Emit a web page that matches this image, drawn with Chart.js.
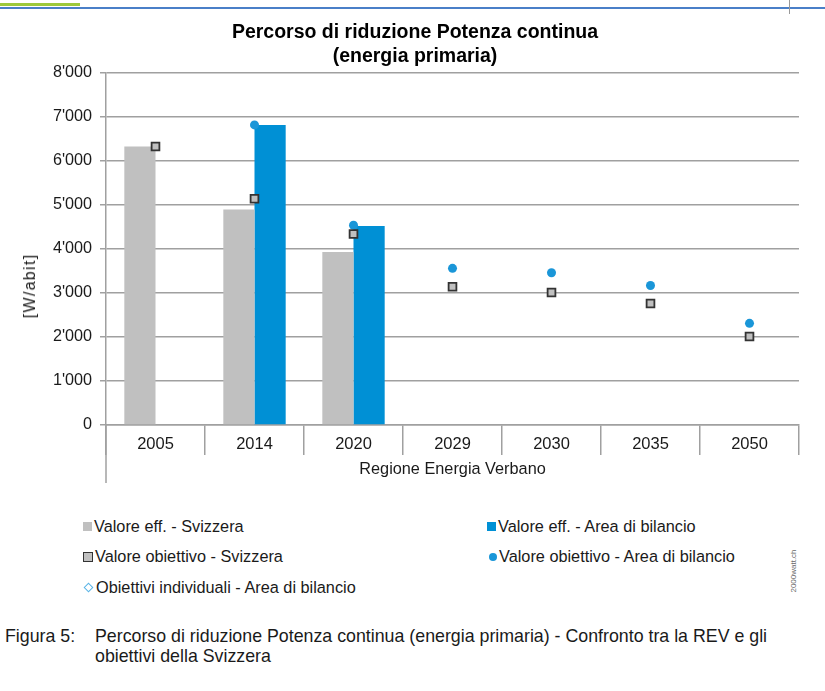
<!DOCTYPE html>
<html>
<head>
<meta charset="utf-8">
<script src="https://cdn.jsdelivr.net/npm/chart.js@4"></script>
<style>
  body { margin: 0; background: #fff; font-family: "Liberation Sans", Arial, sans-serif; color: #1a1a1a; }
  #wrap { position: relative; width: 825px; height: 691px; overflow: hidden; }
  #chartBox { position: absolute; left: 0; top: 0; width: 825px; height: 490px; }
  .legend { position: absolute; font-size: 16.3px; white-space: nowrap; }
  .sw { display: inline-block; vertical-align: middle; margin-right: 2px; box-sizing: border-box; position: relative; top: -1px; }
  .caption { position: absolute; font-size: 17.8px; line-height: 20px; }
  #yTitle { position: absolute; left: 30px; top: 286px; font-size: 16px; letter-spacing: 1.3px; white-space: nowrap;
            transform: translate(-50%, -50%) rotate(-90deg); }
</style>
</head>
<body>
<div id="wrap">
  <div style="position:absolute;left:0;top:3px;width:80px;height:3px;background:#9dc93b"></div>
  <div style="position:absolute;left:0;top:7px;width:825px;height:2px;background:#4a7fc8"></div>
  <div style="position:absolute;left:789px;top:0;width:1px;height:14px;background:#999"></div>

  <div id="chartBox"><canvas id="c"></canvas></div>
  <div id="yTitle">[W/abit]</div>

  <div class="legend" style="left:83px;top:517px"><span class="sw" style="width:9px;height:9px;background:#c0c0c0"></span>Valore eff. - Svizzera</div>
  <div class="legend" style="left:487px;top:517px"><span class="sw" style="width:9px;height:9px;background:#0090d5"></span>Valore eff. - Area di bilancio</div>
  <div class="legend" style="left:83px;top:547px"><span class="sw" style="width:10px;height:10px;background:#c0c0c0;border:1.5px solid #333"></span>Valore obiettivo - Svizzera</div>
  <div class="legend" style="left:487px;top:547px"><span class="sw" style="width:8px;height:8px;border-radius:50%;background:#1a96d8;margin-left:2px"></span>Valore obiettivo - Area di bilancio</div>
  <div class="legend" style="left:83px;top:578px"><span class="sw" style="width:7px;height:7px;border:1.2px solid #5ab4e6;transform:rotate(45deg);margin:0 4px 0 2px"></span>Obiettivi individuali - Area di bilancio</div>
  <div style="position:absolute;left:793px;top:571px;font-size:8px;color:#666;transform:translate(-50%,-50%) rotate(-90deg);white-space:nowrap">2000watt.ch</div>

  <div class="caption" style="left:5px;top:626px">Figura 5:</div>
  <div class="caption" style="left:95px;top:626px">Percorso di riduzione Potenza continua (energia primaria) - Confronto tra la REV e gli<br>obiettivi della Svizzera</div>
</div>

<script>
const categories = ['2005', '2014', '2020', '2029', '2030', '2035', '2050'];
const effSvizzera = [6330, 4900, 3930, null, null, null, null];
const effArea = [null, 6820, 4520, null, null, null, null];
const obiettivoSvizzera = [6330, 5140, 4340, 3140, 3010, 2760, 2010];
const obiettivoArea = [null, 6820, 4540, 3560, 3460, 3170, 2310];
const obiettiviIndividuali = [null, null, null, null, null, null, null];
const yTicks = [0, 1000, 2000, 3000, 4000, 5000, 6000, 7000, 8000];

const fmt = v => v >= 1000 ? Math.floor(v / 1000) + "'" + String(v % 1000).padStart(3, '0') : String(v);

// long first divider under the category axis
const firstDivider = {
  id: 'firstDivider',
  afterDraw(chart) {
    const { ctx, chartArea } = chart;
    ctx.save();
    ctx.strokeStyle = '#a0a0a0';
    ctx.lineWidth = 1.5;
    ctx.beginPath();
    ctx.moveTo(chartArea.left, chartArea.bottom);
    ctx.lineTo(chartArea.left, chartArea.bottom + 58);
    ctx.stroke();
    ctx.restore();
  }
};

Chart.defaults.font.family = '"Liberation Sans", Arial, sans-serif';
Chart.defaults.color = '#1a1a1a';

new Chart(document.getElementById('c'), {
  data: {
    labels: categories,
    datasets: [
      { type: 'line', label: 'Valore obiettivo - Svizzera', data: obiettivoSvizzera, showLine: false,
        pointStyle: 'rect', pointRadius: 5.5, backgroundColor: '#c0c0c0', borderColor: '#333', pointBorderWidth: 1.8, order: 0 },
      { type: 'line', label: 'Valore obiettivo - Area di bilancio', data: obiettivoArea, showLine: false,
        pointStyle: 'circle', pointRadius: 4.5, backgroundColor: '#1a96d8', borderColor: '#1a96d8', pointBorderWidth: 0, order: 1 },
      { type: 'line', label: 'Obiettivi individuali - Area di bilancio', data: obiettiviIndividuali, showLine: false,
        pointStyle: 'rectRot', pointRadius: 5, backgroundColor: '#fff', borderColor: '#5ab4e6', order: 2 },
      { type: 'bar', label: 'Valore eff. - Svizzera', data: effSvizzera, backgroundColor: '#c0c0c0',
        categoryPercentage: 0.63, barPercentage: 1, order: 3 },
      { type: 'bar', label: 'Valore eff. - Area di bilancio', data: effArea, backgroundColor: '#0090d5',
        categoryPercentage: 0.63, barPercentage: 1, order: 3 }
    ]
  },
  options: {
    responsive: true,
    maintainAspectRatio: false,
    animation: false,
    layout: { padding: { left: 31, right: 26, top: 0, bottom: 5 } },
    plugins: {
      legend: { display: false },
      tooltip: { enabled: false },
      title: {
        display: true,
        text: ['Percorso di riduzione Potenza continua', '(energia primaria)'],
        font: { size: 19.5, weight: 'bold', lineHeight: 1.23 },
        color: '#000',
        padding: { top: 21, bottom: 4 }
      }
    },
    scales: {
      x: {
        offset: true,
        grid: { offset: true, drawOnChartArea: false, tickLength: 30, color: '#a0a0a0', lineWidth: 1.5 },
        border: { color: '#a0a0a0', width: 1.5 },
        ticks: { padding: -20, font: { size: 16.5 }, color: '#1a1a1a' },
        title: { display: true, text: 'Regione Energia Verbano', font: { size: 16.3 }, padding: { top: 0, bottom: 6 }, color: '#1a1a1a' },
        afterFit: s => { s.height = 60; }
      },
      y: {
        min: 0,
        max: 8000,
        afterBuildTicks: s => { s.ticks = yTicks.map(v => ({ value: v })); },
        grid: { color: '#a0a0a0', lineWidth: 1.5, tickLength: 6 },
        border: { color: '#a0a0a0', width: 1.5 },
        ticks: { padding: 8, font: { size: 16.2 }, color: '#1a1a1a', callback: v => fmt(v) },
        afterFit: s => { s.width = 75; }
      }
    }
  },
  plugins: [firstDivider]
});
</script>
</body>
</html>
